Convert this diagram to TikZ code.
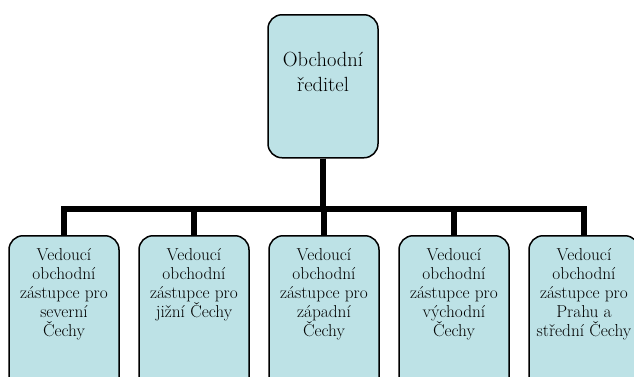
\documentclass[tikz,border=0pt]{standalone}
\usepackage{fontspec}
\usetikzlibrary{positioning}
\definecolor{paleteal}{RGB}{189,226,230}

\tikzset{
  orgbox/.style={draw=black, line width=1.5pt, fill=paleteal, rounded corners=14pt,
                 inner sep=0pt, minimum width=110pt},
  headbox/.style={orgbox, font=\fontsize{20.5}{25}\selectfont},
  unitbox/.style={orgbox, font=\fontsize{17.3}{19}\selectfont},
  link/.style={line width=5.5pt},
}
% text block set at the top of a box of given height
\newcommand{\boxtext}[3]{\parbox[b][#1][t]{108pt}{\centering\vspace*{#2}#3}}

\begin{document}
\begin{tikzpicture}[x=1pt,y=-1pt]
  \useasboundingbox (0,0) rectangle (634,376);
  \clip (0,0) rectangle (634,376);

  % head
  \node[headbox, anchor=north] (boss) at (323,14)
    {\boxtext{143pt}{37pt}{Obchodní\\ředitel}};

  % regional managers
  \node[unitbox, anchor=north] (north) at (64,235)
    {\boxtext{165pt}{13pt}{Vedoucí\\obchodní\\zástupce pro\\severní\\Čechy}};
  \node[unitbox, right=18.5pt of north] (south)
    {\boxtext{165pt}{13pt}{Vedoucí\\obchodní\\zástupce pro\\jižní Čechy}};
  \node[unitbox, right=18.5pt of south] (west)
    {\boxtext{165pt}{13pt}{Vedoucí\\obchodní\\zástupce pro\\západní\\Čechy}};
  \node[unitbox, right=18.5pt of west] (east)
    {\boxtext{165pt}{13pt}{Vedoucí\\obchodní\\zástupce pro\\východní\\Čechy}};
  \node[unitbox, right=18.5pt of east] (prague)
    {\boxtext{165pt}{13pt}{Vedoucí\\obchodní\\zástupce pro\\Prahu a\\střední Čechy}};

  % tree links
  \coordinate (bus) at (323,209);
  \foreach \unit in {north,south,west,east,prague}
    \draw[link] (boss.south) -- (bus) -| (\unit.north);
\end{tikzpicture}
\end{document}
